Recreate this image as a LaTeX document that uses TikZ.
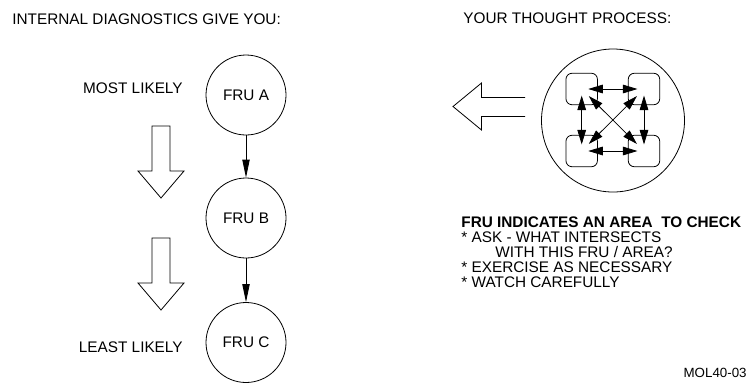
\documentclass[tikz,border=0pt]{standalone}
\usepackage{fontspec}
\setmainfont{Liberation Sans}
\usetikzlibrary{arrows.meta}

\begin{document}
\begin{tikzpicture}[x=0.75pt, y=-0.75pt, line width=0.6pt,
  every node/.style={font=\fontsize{11.5}{13}\selectfont, inner sep=0pt},
  fru/.style={circle, draw, minimum size=60pt},
  area/.style={draw, rounded corners=4.5pt, minimum size=23.6pt},
  chain/.style={-{Triangle[length=13.5pt, width=5.5pt]}},
  link/.style={{Triangle[length=11pt, width=6.5pt]}-{Triangle[length=11pt, width=6.5pt]}}]
  \useasboundingbox (0,0) rectangle (756,390);

  % Headings
  \node[anchor=base west] (given) at (12,24.5) {INTERNAL DIAGNOSTICS GIVE YOU:};
  \node[anchor=base west] (process) at (463,23.5) {YOUR THOUGHT PROCESS:};

  % FRU circles, most likely first
  \node[fru] (fruA) at (246,95) {FRU A};
  \node[fru] (fruB) at (246,218) {FRU B};
  \node[fru] (fruC) at (246,342.5) {FRU C};
  \draw[chain] (fruA) -- (fruB);
  \draw[chain] (fruB) -- (fruC);

  % Likelihood labels and hollow arrows
  \node[anchor=base east] (most) at (183,93) {MOST LIKELY};
  \node[anchor=base east] (least) at (183,352) {LEAST LIKELY};
  \draw (152,126) -- (170,126) -- (170,171) -- (184,171) -- (161,198) -- (138,171) -- (152,171) -- cycle;
  \draw (152,238) -- (170,238) -- (170,283) -- (184,283) -- (161,310) -- (138,283) -- (152,283) -- cycle;

  % Thought process
  \draw (525,97.5) -- (481.5,97.5) -- (481.5,83) -- (453,106.5) -- (481.5,130) -- (481.5,116.5) -- (525,116.5); % open at the tail
  \node[circle, draw, minimum size=107.25pt] (mind) at (613,120.5) {};
  \node[area] (tl) at (581.7,89) {};
  \node[area] (tr) at (644,89) {};
  \node[area] (bl) at (581.7,151) {};
  \node[area] (br) at (644,151) {};
  \draw[link, shorten <=4.9pt, shorten >=4.9pt] (tl.center) -- (tr.center);
  \draw[link, shorten <=4.9pt, shorten >=4.9pt] (bl.center) -- (br.center);
  \draw[link, shorten <=4.9pt, shorten >=4.9pt] (tl.center) -- (bl.center);
  \draw[link, shorten <=4.9pt, shorten >=4.9pt] (tr.center) -- (br.center);
  \draw[link, shorten <=7.5pt, shorten >=7.5pt] (tl.center) -- (br.center);
  \draw[link, shorten <=7.5pt, shorten >=7.5pt] (tr.center) -- (bl.center);

  % Notes
  \node[anchor=base west] (check) at (461,227) {\bfseries FRU INDICATES AN AREA\ \ TO CHECK};
  \node[anchor=base west] (ask) at (461,242) {* ASK - WHAT INTERSECTS};
  \node[anchor=base west] (with) at (495,257) {WITH THIS FRU / AREA?};
  \node[anchor=base west] (exercise) at (461,272) {* EXERCISE AS NECESSARY};
  \node[anchor=base west] (watch) at (461,287) {* WATCH CAREFULLY};
  \node[anchor=base east, font=\fontsize{10}{12}\selectfont] (label) at (747,377) {MOL40-03};
\end{tikzpicture}
\end{document}
